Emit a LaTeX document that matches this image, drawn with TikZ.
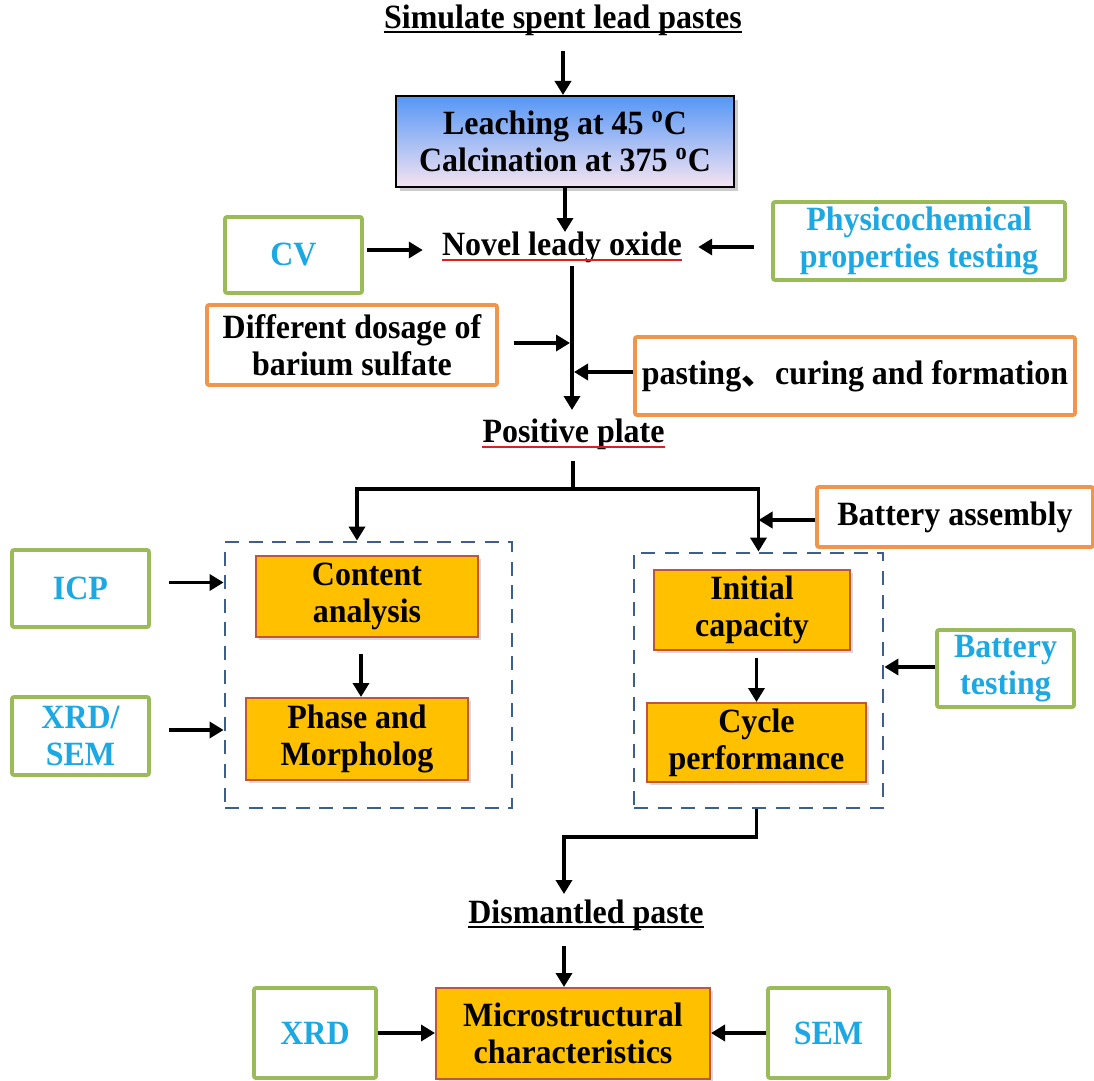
\documentclass[tikz,border=0pt]{standalone}
\usepackage{fontspec}
\setmainfont{Liberation Serif}[FakeStretch=0.94]
\newfontfamily\cjkfont{Noto Sans CJK SC}
\usetikzlibrary{arrows.meta,shadows,calc}

\definecolor{txtblue}{RGB}{28,168,226}
\definecolor{edgegreen}{RGB}{155,187,89}
\definecolor{edgeorange}{RGB}{240,150,75}
\definecolor{fillgold}{RGB}{255,192,0}
\definecolor{edgegold}{RGB}{190,85,60}
\definecolor{grpblue}{RGB}{60,95,140}
\definecolor{leachtop}{RGB}{85,150,245}
\definecolor{leachbot}{RGB}{245,228,242}
\definecolor{ulred}{RGB}{225,30,30}

\begin{document}
\begin{tikzpicture}[
  x=0.5pt, y=-0.5pt,
  font=\bfseries\fontsize{17}{18.5}\selectfont,
  lbl/.style={inner sep=0pt, anchor=base},
  testbox/.style={rectangle, draw=edgegreen, line width=1.9pt, fill=white, text=txtblue, align=center, rounded corners=1pt, inner sep=2pt},
  stepbox/.style={rectangle, draw=edgeorange, line width=1.9pt, fill=white, align=center, rounded corners=1pt, inner sep=2pt},
  resbox/.style={rectangle, draw=edgegold, line width=1pt, fill=fillgold, align=center, inner sep=2pt, drop shadow={opacity=0.3, shadow xshift=1.5pt, shadow yshift=-1.5pt}},
  heatbox/.style={rectangle, draw, line width=1pt, top color=leachtop, bottom color=leachbot, align=center, drop shadow={opacity=0.4, shadow xshift=2pt, shadow yshift=-2pt}},
  grpbox/.style={rectangle, draw=grpblue, line width=1.4pt, dash pattern=on 7pt off 4.8pt},
  flow/.style={-{Triangle[length=7pt, width=8pt]}, line width=1.8pt},
  link/.style={line width=1.8pt},
  ul/.style={line width=0.9pt},
]
\useasboundingbox (0,0) rectangle (1094,1081);

% preparation
\node[lbl] (p-title) at (563,29) {Simulate spent lead pastes};
\node[heatbox, minimum width=169pt, minimum height=45.5pt] (p-leach) at (565,141.5) {Leaching at 45 \textsuperscript{o}C\\Calcination at 375 \textsuperscript{o}C};
\node[lbl] (p-novel) at (562,256) {Novel leady oxide};
\node[testbox, minimum width=68.5pt, minimum height=38pt] (p-cv) at (293.5,255) {CV};
\node[testbox, minimum width=146pt, minimum height=39pt] (p-phys) at (919,241) {Physicochemical\\properties testing};
\node[stepbox, minimum width=145pt, minimum height=40pt] (p-dose) at (352,345) {Different dosage of\\barium sulfate};
\node[stepbox, minimum width=220pt, minimum height=39pt] (p-paste) at (855,376) {pasting{\cjkfont 、}curing and formation};
\node[lbl] (p-pos) at (573.5,442) {Positive plate};
\node[stepbox, minimum width=138pt, minimum height=30pt] (p-assem) at (955,517) {Battery assembly};

% testing groups
\node[grpbox, minimum width=143.5pt, minimum height=133pt] (p-left) at (368.5,675) {};
\node[grpbox, minimum width=124.5pt, minimum height=127.5pt] (p-right) at (758.5,680.5) {};
\node[resbox, minimum width=111pt, minimum height=40.5pt] (p-content) at (367,596.5) {Content\\analysis};
\node[resbox, minimum width=111pt, minimum height=41pt] (p-phase) at (357,739) {Phase and\\Morpholog};
\node[testbox, minimum width=68.5pt, minimum height=38.5pt] (p-icp) at (80.5,588.5) {ICP};
\node[testbox, minimum width=68.5pt, minimum height=39pt] (p-xrdsem) at (80.5,736) {XRD/\\SEM};
\node[resbox, minimum width=98pt, minimum height=40pt] (p-init) at (752,610) {Initial\\capacity};
\node[resbox, minimum width=109.5pt, minimum height=39.5pt] (p-cycle) at (756.5,742.5) {Cycle\\performance};
\node[testbox, minimum width=68.5pt, minimum height=38.5pt] (p-battest) at (1005.5,668.5) {Battery\\testing};

% after cycling
\node[lbl] (p-dism) at (586,923) {Dismantled paste};
\node[resbox, minimum width=137pt, minimum height=45.5pt] (p-micro) at (573,1033.5) {Microstructural\\characteristics};
\node[testbox, minimum width=61pt, minimum height=45pt] (p-xrd) at (315,1033) {XRD};
\node[testbox, minimum width=60.5pt, minimum height=45pt] (p-sem) at (828.5,1033) {SEM};

\draw[ul] ([yshift=-1.5pt]p-title.base west) -- ([yshift=-1.5pt]p-title.base east);
\draw[ul, ulred] ([yshift=-2pt]p-novel.base west) -- ([yshift=-2pt]p-novel.base east);
\draw[ul, ulred] ([yshift=-2.5pt]p-pos.base west) -- ([yshift=-2.5pt]p-pos.base east);
\draw[ul] ([yshift=-2pt]p-dism.base west) -- ([yshift=-2pt]p-dism.base east);

\coordinate (p-spine) at (572,266);
\coordinate (p-split) at (573,489);
\coordinate (p-drop) at (564,837);

\draw[flow, shorten <=7pt] (p-title.south) -- (p-title.south |- p-leach.north);
\draw[flow] (p-leach.south) -- (p-leach.south |- p-novel.north);
\draw[flow, shorten <=1.5pt, shorten >=9.5pt] ([yshift=2.5pt]p-cv.east) -- ([yshift=2.5pt]p-cv.east -| p-novel.west);
\draw[flow, shorten <=8.5pt, shorten >=8pt] ([yshift=-3pt]p-phys.west) -- ([yshift=-3pt]p-phys.west -| p-novel.east);
\draw[flow, shorten >=4pt] (p-spine) -- (p-spine |- p-pos.north);
\draw[flow, shorten <=7.5pt, shorten >=1pt] ([yshift=1pt]p-dose.east) -- ([yshift=1pt]p-dose.east -| p-spine);
\draw[flow, shorten >=1pt] ([yshift=2pt]p-paste.west) -- ([yshift=2pt]p-paste.west -| p-spine);
\draw[link, shorten <=5.5pt] (p-split |- p-pos.south) -- (p-split);
\draw[flow] (p-split) -| (p-phase.north |- p-left.north);
\draw[flow] (p-split) -| (p-right.north);
\draw[flow] ([yshift=-1.5pt]p-assem.west) -- ([yshift=-1.5pt]p-assem.west -| p-right.north);
\draw[flow, shorten <=9pt] ([yshift=3pt]p-icp.east) -- ([yshift=3pt]p-icp.east -| p-left.west);
\draw[flow, shorten <=9pt] ([yshift=3pt]p-xrdsem.east) -- ([yshift=3pt]p-xrdsem.east -| p-left.west);
\draw[flow, shorten <=8pt] ([xshift=-3pt]p-content.south) -- ([xshift=-3pt]p-content.south |- p-phase.north);
\draw[flow, shorten <=3.5pt] (p-cycle.north |- p-init.south) -- (p-cycle.north);
\draw[flow] ([yshift=0.75pt]p-battest.west) -- ([yshift=0.75pt]p-battest.west -| p-right.east);
\draw[flow, shorten >=2.5pt] ([xshift=-1pt]p-right.south) |- (p-drop) -- (p-drop |- p-dism.north);
\draw[flow, shorten <=7.5pt] (p-drop |- p-dism.south) -- (p-drop |- p-micro.north);
\draw[flow] (p-xrd.east) -- (p-xrd.east -| p-micro.west);
\draw[flow] (p-sem.west) -- (p-sem.west -| p-micro.east);

\end{tikzpicture}
\end{document}
